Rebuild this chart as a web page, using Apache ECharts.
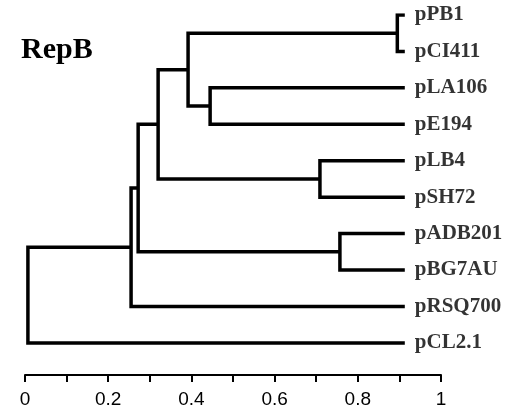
<!DOCTYPE html>
<html>
<head>
<meta charset="utf-8">
<script src="https://cdn.jsdelivr.net/npm/echarts@6/dist/echarts.min.js"></script>
<style>
  html, body { margin: 0; padding: 0; background: #fff; }
  #chart { width: 513px; height: 415px; }
</style>
</head>
<body>
<div id="chart"></div>
<script>
// leaves, top to bottom
var leaves = ['pPB1', 'pCI411', 'pLA106', 'pE194', 'pLB4', 'pSH72', 'pADB201', 'pBG7AU', 'pRSQ700', 'pCL2.1'];
var leafTip = 0.913;

// merges: [left child, right child, position on axis]
// children are leaf names or ids of earlier merges
var mergeIds = ['A', 'B', 'C', 'D', 'E', 'F', 'G', 'H', 'root'];
var mergeLeft = ['pPB1', 'pLA106', 'A', 'pLB4', 'C', 'pADB201', 'E', 'G', 'H'];
var mergeRight = ['pCI411', 'pE194', 'B', 'pSH72', 'D', 'pBG7AU', 'F', 'pRSQ700', 'pCL2.1'];
var mergeAt = [0.895, 0.445, 0.392, 0.709, 0.320, 0.757, 0.272, 0.255, 0.007];

var xTicks = [0, 0.2, 0.4, 0.6, 0.8, 1];

// node positions (x = axis value, y = row)
var nodes = {};
leaves.forEach(function (name, i) {
  nodes[name] = { x: leafTip, y: i };
});
var segments = [];
mergeIds.forEach(function (id, i) {
  var a = nodes[mergeLeft[i]];
  var b = nodes[mergeRight[i]];
  var x = mergeAt[i];
  nodes[id] = { x: x, y: (a.y + b.y) / 2 };
  segments.push({
    coords: [[a.x, a.y], [x, a.y], [x, b.y], [b.x, b.y]]
  });
});

var chart = echarts.init(document.getElementById('chart'));
chart.setOption({
  animation: false,
  title: {
    text: 'RepB',
    left: 16,
    top: 30,
    textStyle: {
      fontFamily: 'Liberation Serif',
      fontWeight: 'bold',
      fontSize: 30,
      color: '#000'
    }
  },
  grid: { left: 25, right: 72, top: 15, bottom: 40 },
  xAxis: {
    type: 'value',
    position: 'bottom',
    min: 0,
    max: 1,
    interval: 0.2,
    splitLine: { show: false },
    axisLine: { show: true, onZero: false, lineStyle: { color: '#000', width: 2 } },
    axisTick: { show: true, length: 7, lineStyle: { color: '#000', width: 2 } },
    minorTick: { show: true, splitNumber: 2, length: 7, lineStyle: { color: '#000', width: 2 } },
    axisLabel: {
      margin: 15,
      fontFamily: 'Liberation Sans',
      fontSize: 19,
      color: '#000',
      formatter: function (v) {
        return xTicks.indexOf(Math.round(v * 10) / 10) >= 0 ? String(Math.round(v * 10) / 10) : '';
      }
    }
  },
  yAxis: {
    type: 'value',
    inverse: true,
    min: 0,
    max: 9.88,
    show: false
  },
  series: [
    {
      type: 'lines',
      coordinateSystem: 'cartesian2d',
      polyline: true,
      silent: true,
      lineStyle: { color: '#000', width: 3.5, opacity: 1, join: 'miter', cap: 'butt' },
      data: segments
    },
    {
      type: 'scatter',
      symbolSize: 0,
      silent: true,
      data: leaves.map(function (name, i) { return [leafTip, i, name]; }),
      label: {
        show: true,
        position: 'right',
        distance: 10,
        formatter: function (p) { return p.data[2]; },
        fontFamily: 'Liberation Serif',
        fontWeight: 'bold',
        fontSize: 21,
        color: '#000'
      }
    }
  ]
});
</script>
</body>
</html>
